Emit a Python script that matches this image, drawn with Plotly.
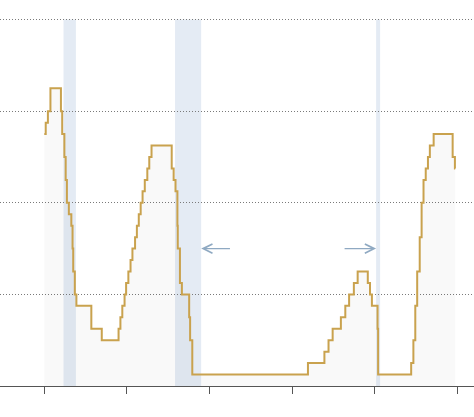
import pandas as pd
import plotly.graph_objects as go

# fed funds target (upper bound, %) at each change date
rate_dates = [
    "2000-01-01", "2000-02-02", "2000-03-21", "2000-05-16",
    "2001-01-03", "2001-01-31", "2001-03-20", "2001-04-18", "2001-05-15",
    "2001-06-27", "2001-08-21", "2001-09-17", "2001-10-02", "2001-11-06",
    "2001-12-11", "2002-11-06", "2003-06-25",
    "2004-06-30", "2004-08-10", "2004-09-21", "2004-11-10", "2004-12-14",
    "2005-02-02", "2005-03-22", "2005-05-03", "2005-06-30", "2005-08-09",
    "2005-09-20", "2005-11-01", "2005-12-13", "2006-01-31", "2006-03-28",
    "2006-05-10", "2006-06-29",
    "2007-09-18", "2007-10-31", "2007-12-11", "2008-01-22", "2008-01-30",
    "2008-03-18", "2008-04-30", "2008-10-08", "2008-10-29", "2008-12-16",
    "2015-12-17", "2016-12-15", "2017-03-16", "2017-06-15", "2017-12-14",
    "2018-03-22", "2018-06-14", "2018-09-27", "2018-12-20",
    "2019-08-01", "2019-09-19", "2019-10-31", "2020-03-04", "2020-03-16",
    "2022-03-17", "2022-05-05", "2022-06-16", "2022-07-28", "2022-09-22",
    "2022-11-03", "2022-12-15", "2023-02-02", "2023-03-23", "2023-05-04",
    "2023-07-27", "2024-09-19", "2024-11-08", "2024-11-15",
]
rate_values = [
    5.5, 5.75, 6.0, 6.5,
    6.0, 5.5, 5.0, 4.5, 4.0,
    3.75, 3.5, 3.0, 2.5, 2.0,
    1.75, 1.25, 1.0,
    1.25, 1.5, 1.75, 2.0, 2.25,
    2.5, 2.75, 3.0, 3.25, 3.5,
    3.75, 4.0, 4.25, 4.5, 4.75,
    5.0, 5.25,
    4.75, 4.5, 4.25, 3.5, 3.0,
    2.25, 2.0, 1.5, 1.0, 0.25,
    0.5, 0.75, 1.0, 1.25, 1.5,
    1.75, 2.0, 2.25, 2.5,
    2.25, 2.0, 1.75, 1.25, 0.25,
    0.5, 1.0, 1.75, 2.5, 3.25,
    4.0, 4.5, 4.75, 5.0, 5.25,
    5.5, 5.0, 4.75, 4.75,
]

# recessions
recession_starts = ["2001-03-01", "2007-12-01", "2020-02-01"]
recession_ends = ["2001-11-30", "2009-06-30", "2020-04-30"]

# arrows: (tail, head) dates at a given rate level
arrow_tails = ["2011-05-01", "2018-02-01"]
arrow_heads = ["2009-07-01", "2020-02-01"]
arrow_level = 3.0

grid_values = [2, 4, 6, 8]

LINE_COLOR = "#c9a24e"
BAND_COLOR = "#e4ebf4"
ARROW_COLOR = "#8fa9c2"

fig = go.Figure()

fig.add_trace(
    go.Scatter(
        x=pd.to_datetime(rate_dates),
        y=rate_values,
        mode="lines",
        line=dict(color=LINE_COLOR, width=2, shape="hv"),
        fill="tozeroy",
        fillcolor="rgba(0,0,0,0.025)",
        hoverinfo="skip",
        showlegend=False,
    )
)

# recession bands
for s, e in zip(recession_starts, recession_ends):
    fig.add_shape(
        type="rect", x0=s, x1=e, y0=0, y1=grid_values[-1],
        xref="x", yref="y", fillcolor=BAND_COLOR, line_width=0, layer="below",
    )

for tail, head in zip(arrow_tails, arrow_heads):
    fig.add_annotation(
        x=head, y=arrow_level, ax=tail, ay=arrow_level,
        xref="x", yref="y", axref="x", ayref="y",
        text="", showarrow=True, arrowhead=5, arrowsize=1.3,
        arrowwidth=1.4, arrowcolor=ARROW_COLOR,
    )

fig.update_layout(
    width=474,
    height=417,
    margin=dict(l=0, r=0, t=15, b=31),
    plot_bgcolor="white",
    paper_bgcolor="white",
    showlegend=False,
)
fig.update_xaxes(
    type="date",
    range=["1997-04-27", "2026-01-04"],
    tick0="2000-01-01",
    dtick="M60",
    showgrid=False,
    showline=True,
    linecolor="#555555",
    linewidth=1,
    ticks="outside",
    ticklen=7,
    tickcolor="#555555",
    showticklabels=False,
    zeroline=False,
)
fig.update_yaxes(
    range=[0, 8.1],
    tickvals=grid_values,
    showgrid=True,
    gridcolor="#7a7a7a",
    griddash="1px,2px",
    gridwidth=1,
    showticklabels=False,
    zeroline=False,
)

# drop the browser's default body margin so the figure sits at the corner
fig.write_html(
    "out.html",
    config={"displayModeBar": False},
    post_script="document.body.style.margin='0';",
)
